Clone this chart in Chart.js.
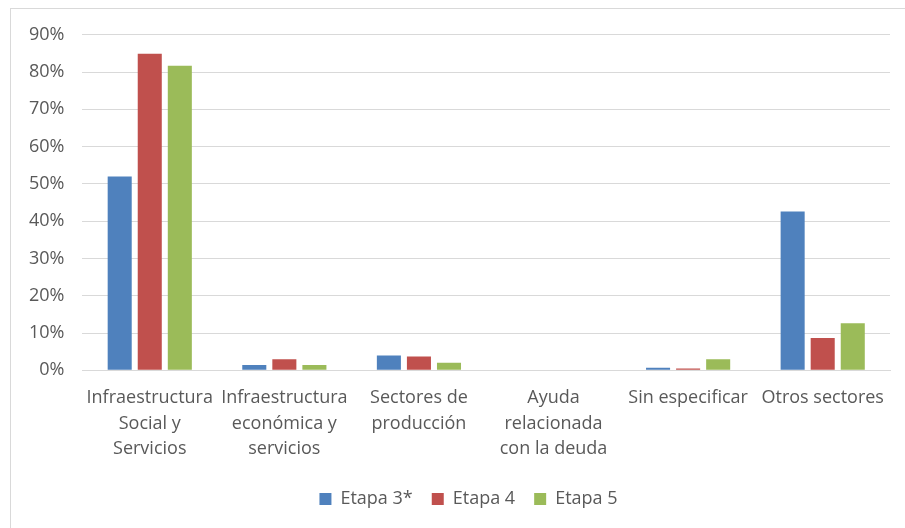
<!DOCTYPE html>
<html lang="es">
<head>
    <meta charset="UTF-8">
    <title>Distribución por sectores</title>
    <script src="https://cdn.jsdelivr.net/npm/chart.js"></script>
    <style>
        html, body {
            margin: 0;
            background: #fff;
            overflow: hidden;
        }

        .frame {
            position: absolute;
            left: 10px;
            top: 8px;
            width: 931px;
            height: 520px;
            border-left: 1px solid #d9d9d9;
            border-top: 1px solid #d9d9d9;
            background: #fff;
        }

        .frame canvas {
            position: absolute;
            left: 0;
            top: -3px;
        }
    </style>
</head>
<body>
    <div class="frame">
        <canvas id="chart" width="930" height="522"></canvas>
    </div>

    <script>
        const categories = [
            ['Infraestructura', 'Social y', 'Servicios'],
            ['Infraestructura', 'económica y', 'servicios'],
            ['Sectores de', 'producción'],
            ['Ayuda', 'relacionada', 'con la deuda'],
            'Sin especificar',
            'Otros sectores'
        ];
        const etapa3 = [52.0, 1.4, 4.0, 0, 0.7, 42.6];
        const etapa4 = [84.9, 3.0, 3.7, 0, 0.5, 8.7];
        const etapa5 = [81.7, 1.4, 2.0, 0, 3.0, 12.6];

        const textColor = '#595959';
        const gridColor = '#d9d9d9';
        const fontFamily = 'Open Sans';

        new Chart(document.getElementById('chart'), {
            type: 'bar',
            data: {
                labels: categories,
                datasets: [
                    { label: 'Etapa 3*', data: etapa3, backgroundColor: '#4f81bd' },
                    { label: 'Etapa 4', data: etapa4, backgroundColor: '#c0504d' },
                    { label: 'Etapa 5', data: etapa5, backgroundColor: '#9bbb59' }
                ]
            },
            options: {
                responsive: false,
                animation: false,
                datasets: {
                    bar: {
                        categoryPercentage: 0.67,
                        barPercentage: 0.8
                    }
                },
                layout: {
                    padding: { top: 4, right: 15, left: 0, bottom: 10 }
                },
                plugins: {
                    tooltip: { enabled: false },
                    legend: {
                        position: 'bottom',
                        labels: {
                            color: textColor,
                            font: { family: fontFamily, size: 18 },
                            boxWidth: 12,
                            boxHeight: 12,
                            padding: 19
                        }
                    }
                },
                scales: {
                    x: {
                        grid: { display: false },
                        border: { color: gridColor, width: 1 },
                        ticks: {
                            color: textColor,
                            font: { family: fontFamily, size: 18, lineHeight: 1.42 },
                            maxRotation: 0,
                            autoSkip: false,
                            padding: 7
                        },
                        // a bit more room between the labels and the legend
                        afterFit: scale => { scale.height += 2; }
                    },
                    y: {
                        min: 0,
                        max: 90,
                        grid: { color: gridColor, lineWidth: 1, drawTicks: false },
                        border: { display: false },
                        ticks: {
                            stepSize: 10,
                            color: textColor,
                            font: { family: fontFamily, size: 18 },
                            padding: 18,
                            callback: v => v + '%'
                        }
                    },
                    // empty spacer on the right: canvas runs past the window, this keeps the plot edge in place
                    spacer: {
                        type: 'linear',
                        position: 'right',
                        min: 0,
                        max: 1,
                        display: true,
                        grid: { display: false },
                        border: { display: false },
                        ticks: { display: false },
                        afterFit: scale => { scale.width = 36; }
                    }
                }
            }
        });
    </script>
</body>
</html>
